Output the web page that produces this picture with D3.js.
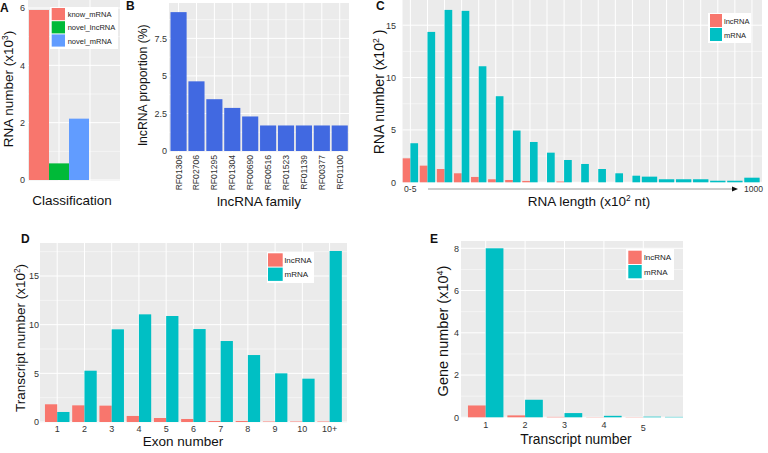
<!DOCTYPE html>
<html><head><meta charset="utf-8">
<script src="https://cdn.jsdelivr.net/npm/d3@7"></script>
<style>
html,body{margin:0;padding:0;background:#fff;}
svg{display:block;font-family:"Liberation Sans",Arial,Helvetica,sans-serif;}
</style></head>
<body>
<svg id="chart" width="768" height="453"></svg>
<script>
// ---------------- DATA ----------------
const classCats = ["know_mRNA", "novel_lncRNA", "novel_mRNA"];
const classValues = [5.93, 0.58, 2.14];
const classTicks = [0, 2, 4, 6];

const familyCats = ["RF01306","RF02706","RF01295","RF01304","RF00690","RF00516","RF01523","RF01139","RF00377","RF01100"];
const familyValues = [9.25, 4.64, 3.45, 2.87, 2.30, 1.70, 1.70, 1.70, 1.70, 1.70];
const familyTicks = [0, 2.5, 5, 7.5];

const lengthBins = ["b01","b02","b03","b04","b05","b06","b07","b08","b09","b10","b11","b12","b13","b14","b15","b16","b17","b18","b19","b20","b21"];
const lengthLnc  = [2.29, 1.59, 1.27, 0.86, 0.51, 0.29, 0.22, 0.13, 0, 0.08, 0, 0, 0, 0, null, null, null, null, null, null, null];
const lengthMrna = [3.73, 14.36, 16.46, 16.37, 11.08, 8.22, 4.94, 3.85, 2.83, 2.13, 1.75, 1.27, 0.86, 0.63, 0.54, 0.29, 0.29, 0.29, 0.15, 0.15, 0.44];
const lengthEndLabels = ["0-5", "1000"];
const lengthTicks = [0, 5, 10, 15];

const exonCats = ["1","2","3","4","5","6","7","8","9","10","10+"];
const exonLnc  = [1.82, 1.71, 1.68, 0.62, 0.41, 0.31, 0.10, 0.10, 0.05, 0.05, 0.05];
const exonMrna = [1.03, 5.27, 9.52, 11.06, 10.89, 9.55, 8.32, 6.88, 5.00, 4.45, 17.57];
const exonTicks = [0, 5, 10, 15];

const transCats = ["1","2","3","4","5","6"];
const transLabels = ["1","2","3","4","5"];
const transLnc  = [0.56, 0.09, 0.02, 0.01, 0.01, null];
const transMrna = [8.00, 0.83, 0.20, 0.07, 0.03, 0.02];
const transTicks = [0, 2, 4, 6, 8];

const seriesNames = ["lncRNA", "mRNA"];

// ---------------- STYLE ----------------
const COL_LNC = "#F8766D", COL_MRNA = "#00BFC4";
const classColors = ["#F8766D", "#00BA38", "#619CFF"];
const COL_FAMILY = "#4169E1";
const BG = "#EBEBEB";
const TICK_COL = "#333333";

const svg = d3.select("#chart");

function panelBg(g, x0, x1, y0, y1) {
  g.append("rect").attr("x", x0).attr("y", y0).attr("width", x1 - x0).attr("height", y1 - y0).attr("fill", BG);
}
function hGrid(g, y, ticks, x0, x1, y0, y1) {
  // minor lines halfway between majors
  const minors = [];
  for (let i = 0; i < ticks.length; i++) {
    const step = ticks.length > 1 ? ticks[1] - ticks[0] : 1;
    minors.push(ticks[i] + step / 2);
  }
  minors.forEach(v => {
    const yy = y(v);
    if (yy >= y0 && yy <= y1) g.append("line").attr("x1", x0).attr("x2", x1).attr("y1", yy).attr("y2", yy).attr("stroke", "#fff").attr("stroke-width", 0.5);
  });
  ticks.forEach(v => {
    const yy = y(v);
    if (yy >= y0 && yy <= y1 + 1) g.append("line").attr("x1", x0).attr("x2", x1).attr("y1", yy).attr("y2", yy).attr("stroke", "#fff").attr("stroke-width", 1);
  });
}
function vGrid(g, xs, y0, y1) {
  xs.forEach(xx => g.append("line").attr("x1", xx).attr("x2", xx).attr("y1", y0).attr("y2", y1).attr("stroke", "#fff").attr("stroke-width", 1));
}
function yLabels(g, y, ticks, xRight, fmt) {
  const ax = d3.axisLeft(y).tickValues(ticks).tickSize(0).tickPadding(0).tickFormat(fmt || (d => d));
  const a = g.append("g").attr("transform", `translate(${xRight},0)`).call(ax);
  a.select(".domain").remove();
  a.selectAll("text").attr("fill", TICK_COL).style("font-size", "9px").style("font-family", "Liberation Sans, Arial, sans-serif");
  return a;
}
function letter(txt, x, y) {
  svg.append("text").attr("x", x).attr("y", y).text(txt).style("font-weight", "bold").style("font-size", "12px").attr("fill", "#111");
}
function yTitle(parts, cx, cy, size) {
  const t = svg.append("text").attr("transform", `translate(${cx},${cy}) rotate(-90)`).attr("text-anchor", "middle")
    .style("font-size", size + "px").attr("fill", "#111");
  parts.forEach(p => {
    const s = t.append("tspan").text(p.t);
    if (p.sup) s.style("font-size", (size * 0.62) + "px").attr("baseline-shift", "super");
  });
  return t;
}
function xTitle(parts, cx, by, size) {
  const t = svg.append("text").attr("x", cx).attr("y", by).attr("text-anchor", "middle").style("font-size", size + "px").attr("fill", "#111");
  parts.forEach(p => {
    const s = t.append("tspan").text(p.t);
    if (p.sup) s.style("font-size", (size * 0.62) + "px").attr("baseline-shift", "super");
  });
  return t;
}
function legend(names, colors, bx0, by0, bx1, by1, kx, ky, ks, kh, tx, fs) {
  const g = svg.append("g");
  g.append("rect").attr("x", bx0).attr("y", by0).attr("width", bx1 - bx0).attr("height", by1 - by0).attr("fill", "#fff");
  names.forEach((n, i) => {
    g.append("rect").attr("x", kx).attr("y", ky + i * kh).attr("width", ks).attr("height", kh - 1).attr("fill", colors[i]);
    g.append("text").attr("x", tx).attr("y", ky + i * kh + kh / 2).attr("dominant-baseline", "central")
      .style("font-size", fs + "px").attr("fill", "#222").text(n);
  });
}
function dodgeBars(g, cats, lnc, mrna, x, y) {
  const st = x.step();
  const data = cats.map((c, i) => ({ c, l: lnc[i], m: mrna[i] }));
  data.forEach(d => {
    const x0 = x(d.c) + 0.05 * st;
    if (d.l === null) {
      g.append("rect").attr("x", x0).attr("width", 0.9 * st).attr("y", y(d.m)).attr("height", y(0) - y(d.m)).attr("fill", COL_MRNA);
    } else {
      g.append("rect").attr("x", x0).attr("width", 0.45 * st).attr("y", y(d.l)).attr("height", y(0) - y(d.l)).attr("fill", COL_LNC);
      g.append("rect").attr("x", x0 + 0.45 * st).attr("width", 0.45 * st).attr("y", y(d.m)).attr("height", y(0) - y(d.m)).attr("fill", COL_MRNA);
    }
  });
}

// ---------------- PANEL A ----------------
{
  const g = svg.append("g");
  const X0 = 28, X1 = 120, Y0 = 0, Y1 = 181;
  const x = d3.scaleBand().domain(classCats).range([29, 89]).padding(0);
  const y = d3.scaleLinear().domain([0, 6]).range([180, 8]);
  panelBg(g, X0, X1, Y0, Y1);
  hGrid(g, y, classTicks, X0, X1, Y0, Y1);
  vGrid(g, [59, 90], Y0, Y1);
  g.selectAll(".barA").data(classCats).enter().append("rect")
    .attr("x", d => x(d)).attr("width", x.bandwidth())
    .attr("y", (d, i) => y(classValues[i])).attr("height", (d, i) => y(0) - y(classValues[i]))
    .attr("fill", (d, i) => classColors[i]);
  yLabels(g, y, classTicks, 25);
  legend(classCats, classColors, 50, 7, 118, 49, 51.7, 8, 13.3, 13.2, 67.7, 7.5);
  letter("A", 0, 12);
  yTitle([{t: "RNA number (x10"}, {t: "3", sup: true}, {t: ")"}], 13, 89, 13.5);
  xTitle([{t: "Classification"}], 72, 205, 13.5);
}

// ---------------- PANEL B ----------------
{
  const g = svg.append("g");
  const X0 = 169, X1 = 349, Y0 = 3, Y1 = 152;
  const x = d3.scaleBand().domain(familyCats).range([170.5, 347.8]).paddingInner(0.1).paddingOuter(0);
  const y = d3.scaleLinear().domain([0, 7.5]).range([151, 38.4]);
  panelBg(g, X0, X1, Y0, Y1);
  hGrid(g, y, familyTicks, X0, X1, Y0, Y1);
  vGrid(g, familyCats.map(c => x(c) + x.bandwidth() / 2), Y0, Y1);
  g.selectAll(".barB").data(familyCats).enter().append("rect")
    .attr("x", d => x(d)).attr("width", x.bandwidth())
    .attr("y", (d, i) => y(familyValues[i])).attr("height", (d, i) => y(0) - y(familyValues[i]))
    .attr("fill", COL_FAMILY);
  yLabels(g, y, familyTicks, 167);
  familyCats.forEach(c => {
    const cx = x(c) + x.bandwidth() / 2;
    g.append("text").attr("transform", `translate(${cx + 3},${155}) rotate(-90)`).attr("text-anchor", "end")
      .style("font-size", "8.6px").attr("fill", TICK_COL).text(c);
  });
  letter("B", 126, 10);
  yTitle([{t: "lncRNA proportion (%)"}], 147, 85, 12.2);
  xTitle([{t: "lncRNA family"}], 259, 206, 13.5);
}

// ---------------- PANEL C ----------------
{
  const g = svg.append("g");
  const X0 = 402.5, X1 = 762, Y0 = 0, Y1 = 182.5;
  const x = d3.scaleBand().domain(lengthBins).range([401.85, 760.5]).padding(0);
  const y = d3.scaleLinear().domain([0, 15]).range([182.3, 25.2]);
  panelBg(g, X0, X1, Y0, Y1);
  hGrid(g, y, lengthTicks, X0, X1, Y0, Y1);
  vGrid(g, lengthBins.map(c => x(c) + x.bandwidth() / 2), Y0, Y1);
  dodgeBars(g, lengthBins, lengthLnc, lengthMrna, x, y);
  yLabels(g, y, lengthTicks, 396);
  // x-axis annotation
  g.append("text").attr("x", 404).attr("y", 189).attr("dominant-baseline", "central").style("font-size", "8.6px").attr("fill", TICK_COL).text(lengthEndLabels[0]);
  g.append("line").attr("x1", 428).attr("x2", 733).attr("y1", 189).attr("y2", 189).attr("stroke", "#999").attr("stroke-width", 1);
  g.append("path").attr("d", "M732,186.5 L738,189 L732,191.5 Z").attr("fill", "#111");
  g.append("text").attr("x", 744).attr("y", 189).attr("dominant-baseline", "central").style("font-size", "8.6px").attr("fill", TICK_COL).text(lengthEndLabels[1]);
  legend(seriesNames, [COL_LNC, COL_MRNA], 708, 13, 751, 43, 710, 14, 12, 14, 724, 7.5);
  letter("C", 376, 10);
  yTitle([{t: "RNA number (x10"}, {t: "2", sup: true}, {t: " )"}], 384, 92, 14);
  xTitle([{t: "RNA length (x10"}, {t: "2", sup: true}, {t: " nt)"}], 589, 206, 13.5);
}

// ---------------- PANEL D ----------------
{
  const g = svg.append("g");
  const X0 = 40, X1 = 347, Y0 = 243, Y1 = 422.5;
  const x = d3.scaleBand().domain(exonCats).range([43.6, 343.2]).padding(0);
  const y = d3.scaleLinear().domain([0, 15]).range([422, 276]);
  panelBg(g, X0, X1, Y0, Y1);
  hGrid(g, y, exonTicks, X0, X1, Y0, Y1);
  vGrid(g, exonCats.map(c => x(c) + x.bandwidth() / 2), Y0, Y1);
  dodgeBars(g, exonCats, exonLnc, exonMrna, x, y);
  yLabels(g, y, exonTicks, 39);
  exonCats.forEach(c => {
    g.append("text").attr("x", x(c) + x.bandwidth() / 2).attr("y", 429).attr("text-anchor", "middle").attr("dominant-baseline", "central")
      .style("font-size", "9px").attr("fill", TICK_COL).text(c);
  });
  legend(seriesNames, [COL_LNC, COL_MRNA], 267, 252, 314, 283, 268, 253.3, 14.7, 14.3, 284.5, 8);
  letter("D", 21, 243);
  yTitle([{t: "Transcript number (x10"}, {t: "2", sup: true}, {t: ")"}], 25, 338, 13.5);
  xTitle([{t: "Exon number"}], 183, 446, 13.5);
}

// ---------------- PANEL E ----------------
{
  const g = svg.append("g");
  const X0 = 461, X1 = 683, Y0 = 241, Y1 = 418;
  svg.append("defs").append("clipPath").attr("id", "clipE").append("rect").attr("x", X0).attr("y", Y0).attr("width", X1 - X0).attr("height", Y1 - Y0);
  const x = d3.scaleBand().domain(transCats).range([466, 702.4]).padding(0);
  const y = d3.scaleLinear().domain([0, 8]).range([417.3, 248.3]);
  panelBg(g, X0, X1, Y0, Y1);
  hGrid(g, y, transTicks, X0, X1, Y0, Y1);
  vGrid(g, transLabels.map(c => x(c) + x.bandwidth() / 2), Y0, Y1);
  const gb = g.append("g").attr("clip-path", "url(#clipE)");
  dodgeBars(gb, transCats, transLnc, transMrna, x, y);
  yLabels(g, y, transTicks, 459);
  transLabels.forEach((c, i) => {
    g.append("text").attr("x", x(c) + x.bandwidth() / 2).attr("y", i === 4 ? 427.5 : 425).attr("text-anchor", "middle").attr("dominant-baseline", "central")
      .style("font-size", "9px").attr("fill", TICK_COL).text(c);
  });
  legend(seriesNames, [COL_LNC, COL_MRNA], 626, 249, 674, 280, 628.3, 250.7, 13.4, 14.3, 644, 8);
  letter("E", 430, 243);
  yTitle([{t: "Gene number (x10"}, {t: "4", sup: true}, {t: ")"}], 448, 331, 14.5);
  xTitle([{t: "Transcript number"}], 576, 444, 13.8);
}
</script>
</body></html>
